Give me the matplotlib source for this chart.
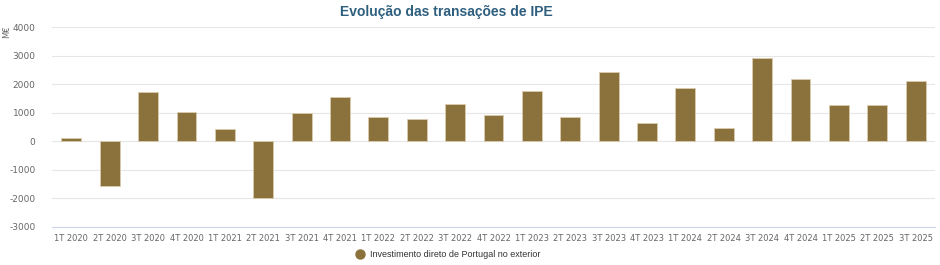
import matplotlib
matplotlib.use("Agg")
import matplotlib.pyplot as plt
from matplotlib.lines import Line2D

categories = ["1T 2020", "2T 2020", "3T 2020", "4T 2020", "1T 2021", "2T 2021", "3T 2021", "4T 2021",
              "1T 2022", "2T 2022", "3T 2022", "4T 2022", "1T 2023", "2T 2023", "3T 2023", "4T 2023",
              "1T 2024", "2T 2024", "3T 2024", "4T 2024", "1T 2025", "2T 2025", "3T 2025"]
values = [130, -1570, 1720, 1040, 440, -1990, 980, 1540,
          840, 795, 1320, 935, 1755, 840, 2430, 630,
          1880, 465, 2910, 2195, 1285, 1285, 2105]
yticks = [-3000, -2000, -1000, 0, 1000, 2000, 3000, 4000]
series_name = "Investimento direto de Portugal no exterior"
title = "Evolução das transações de IPE"

bar_color = "#8b723c"
fig = plt.figure(figsize=(9.4, 2.65), dpi=100)
ax = fig.add_axes([0.0555, 0.1445, 0.939, 0.7525])
x = list(range(len(categories)))
ax.bar(x, values, width=0.52, color=bar_color, edgecolor="#d9ccae", linewidth=0.6, zorder=3)
ax.set_xlim(-0.5, len(categories) - 0.5)
ax.set_ylim(-3000, 4000)
ax.set_yticks(yticks)
ax.set_yticklabels([str(v) for v in yticks])
ax.set_xticks(x)
ax.set_xticklabels(categories)
ax.grid(axis="y", color="#e6e6e6", linewidth=0.8, zorder=0)
for s in ["top", "right", "left"]:
    ax.spines[s].set_visible(False)
ax.spines["bottom"].set_color("#ccd6eb")
ax.spines["bottom"].set_linewidth(0.8)
ax.tick_params(axis="both", length=0, labelcolor="#666666")
ax.tick_params(axis="y", pad=12, labelsize=6.5)
ax.tick_params(axis="x", pad=5, labelsize=6)
fig.text(0.0075, 0.88, "M€", rotation=90, fontsize=6, color="#666666", ha="center", va="center")
fig.text(0.475, 0.955, title, fontsize=10, fontweight="bold", color="#2f5f7f", ha="center", va="center",
         family="Liberation Sans")
handle = Line2D([], [], marker="o", linestyle="none", markersize=6.5, markerfacecolor=bar_color,
                markeredgecolor=bar_color)
fig.legend([handle], [series_name], loc="center", bbox_to_anchor=(0.474, 0.04), frameon=False,
           handletextpad=0.1, prop={"family": "Liberation Sans", "size": 6.5})
for t in fig.legends[0].get_texts():
    t.set_color("#333333")
fig.savefig("out.png", dpi=100, facecolor="white")
